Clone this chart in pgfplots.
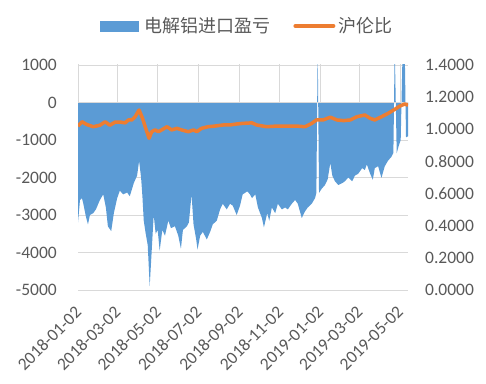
\documentclass[border=0pt]{standalone}
\usepackage{pgfplots}
\usepackage{pgfplotstable}
\pgfplotsset{compat=1.18}
\usepackage{fontspec}
\setmainfont{Carlito}
\newfontfamily\cjk{Noto Sans CJK SC}
\definecolor{areablue}{HTML}{5B9BD5}
\definecolor{lineorange}{HTML}{ED7D31}
\definecolor{gridgray}{HTML}{D9D9D9}
\definecolor{textgray}{HTML}{595959}

% x = days since 2018-01-02
\pgfplotstableread{
x y
0 0
0 -3200
3 -2600
6 -2550
8 -2700
12 -3050
15 -3250
18 -3000
23 -2950
27 -2850
33 -2600
38 -2450
42 -2800
45 -3300
50 -3430
54 -2950
59 -2550
63 -2350
68 -2450
74 -2400
78 -2500
84 -2150
89 -1950
92 -1560
95 -2000
97 -2500
99 -3150
102 -3500
105 -3800
108 -4900
111 -3950
114 -3000
117 -3500
120 -3400
123 -3950
127 -3400
131 -3550
136 -3150
140 -3350
146 -3300
151 -3550
155 -3900
158 -3400
164 -3300
167 -3200
171 -2450
174 -3250
178 -3650
180 -3920
184 -3550
188 -3450
194 -3650
199 -3450
203 -3250
209 -3150
214 -2850
218 -2700
224 -2850
229 -2700
233 -2750
239 -3000
244 -2750
248 -2450
255 -2370
259 -2450
262 -2550
267 -2450
271 -2800
277 -3080
280 -3330
285 -2950
288 -3150
292 -2800
297 -2950
301 -2700
307 -2850
312 -2800
316 -2850
322 -2700
327 -2600
331 -2700
337 -3080
342 -2900
346 -2800
352 -2700
357 -2550
359 -2410
361 1500
363 -2410
367 -2300
372 -2200
376 -2050
380 -1610
383 -1950
387 -2100
392 -2200
398 -2150
402 -2100
407 -2000
413 -2100
417 -1950
422 -1900
428 -1750
432 -1800
435 -1650
440 -1900
444 -2060
447 -1750
452 -1700
457 -2010
462 -1700
467 -1550
472 -1450
475 -1340
477 1500
480 -1350
483 -1160
486 -1000
489 1500
492 1500
494 -930
497 -900
497 0
}\profit

\pgfplotstableread{
x r
0 1.020
6 1.047
13 1.030
23 1.016
33 1.025
41 1.047
48 1.025
56 1.045
63 1.045
71 1.040
76 1.058
81 1.058
86 1.078
92 1.120
97 1.070
102 1.006
107 0.944
111 0.985
116 0.996
121 0.985
126 0.996
134 1.016
141 0.996
149 1.006
156 0.996
166 0.985
174 0.996
179 0.985
186 1.006
196 1.016
206 1.020
219 1.027
229 1.027
239 1.033
249 1.037
262 1.040
269 1.027
284 1.016
299 1.020
314 1.020
329 1.020
342 1.016
352 1.037
359 1.058
369 1.058
380 1.075
390 1.058
400 1.054
410 1.058
420 1.078
432 1.089
440 1.068
447 1.058
457 1.078
467 1.099
477 1.124
485 1.145
492 1.157
497 1.150
}\ratio

\begin{document}
\begin{tikzpicture}
\path[use as bounding box] (0,0) rectangle (486bp,384bp);
\begin{axis}[
  at={(78bp,94bp)}, anchor=south west,
  width=330bp, height=225bp, scale only axis,
  xmin=0, xmax=497, ymin=-5000, ymax=1000,
  axis line style={draw=none},
  ytick={-5000,-4000,-3000,-2000,-1000,0,1000},
  yticklabels={-5000,-4000,-3000,-2000,-1000,0,1000},
  ymajorgrids, grid style={gridgray, line width=0.75bp},
  major tick length=0pt,
  xtick=\empty,
  yticklabel style={font=\fontsize{17.5bp}{21bp}\selectfont, text=textgray, inner sep=0pt, xshift=-21bp},
]
\addplot[fill=areablue, draw=none] table[x=x,y=y]{\profit};
\draw[gridgray, line width=0.75bp] (axis cs:0,0) -- (axis cs:497,0);
\pgfplotsinvokeforeach{0,59,120,181,243,304,365,424,485}{
  \draw[gridgray, line width=0.75bp] (axis cs:#1,0) -- ++(0,-5bp);
}
\end{axis}
\begin{axis}[
  at={(78bp,94bp)}, anchor=south west,
  width=330bp, height=225bp, scale only axis,
  xmin=0, xmax=497, ymin=0, ymax=1.4,
  axis y line*=right, axis x line*=bottom,
  axis line style={draw=none},
  major tick length=0pt,
  ytick={0,0.2,0.4,0.6,0.8,1.0,1.2,1.4},
  yticklabels={0.0000,0.2000,0.4000,0.6000,0.8000,1.0000,1.2000,1.4000},
  yticklabel style={font=\fontsize{17.5bp}{21bp}\selectfont, text=textgray, inner sep=0pt, xshift=17bp},
  xtick={0,59,120,181,243,304,365,424,485},
  xticklabels={2018-01-02,2018-03-02,2018-05-02,2018-07-02,2018-09-02,2018-11-02,2019-01-02,2019-03-02,2019-05-02},
  xticklabel style={font=\fontsize{17.5bp}{21bp}\selectfont, text=textgray, inner sep=0pt, xshift=-4bp, yshift=-15bp, rotate=45, anchor=north east},
  legend columns=2,
  legend style={at={(axis description cs:0.0667,1.1733)}, anchor=west, draw=none, fill=none, inner sep=0pt,
    font=\cjk\fontsize{18bp}{20bp}\selectfont, text=textgray,
    nodes={inner sep=0pt},
    /tikz/every even column/.append style={column sep=23bp}},
]
\addlegendimage{legend image code/.code={\fill[areablue] (0bp,-5bp) rectangle (38bp,5bp); \path[draw=none,fill=none] (0bp,-1bp) rectangle (44bp,1bp);}}
\addlegendentry{电解铝进口盈亏}
\addplot[lineorange, line width=3.5bp, line join=round, mark=none,
  legend image code/.code={\draw[lineorange, line width=4bp, line cap=round] (2bp,0bp) -- (40bp,0bp); \path[draw=none,fill=none] (0bp,-1bp) rectangle (45bp,1bp);}]
  table[x=x,y=r]{\ratio};
\addlegendentry{沪伦比}
\end{axis}
\end{tikzpicture}
\end{document}
